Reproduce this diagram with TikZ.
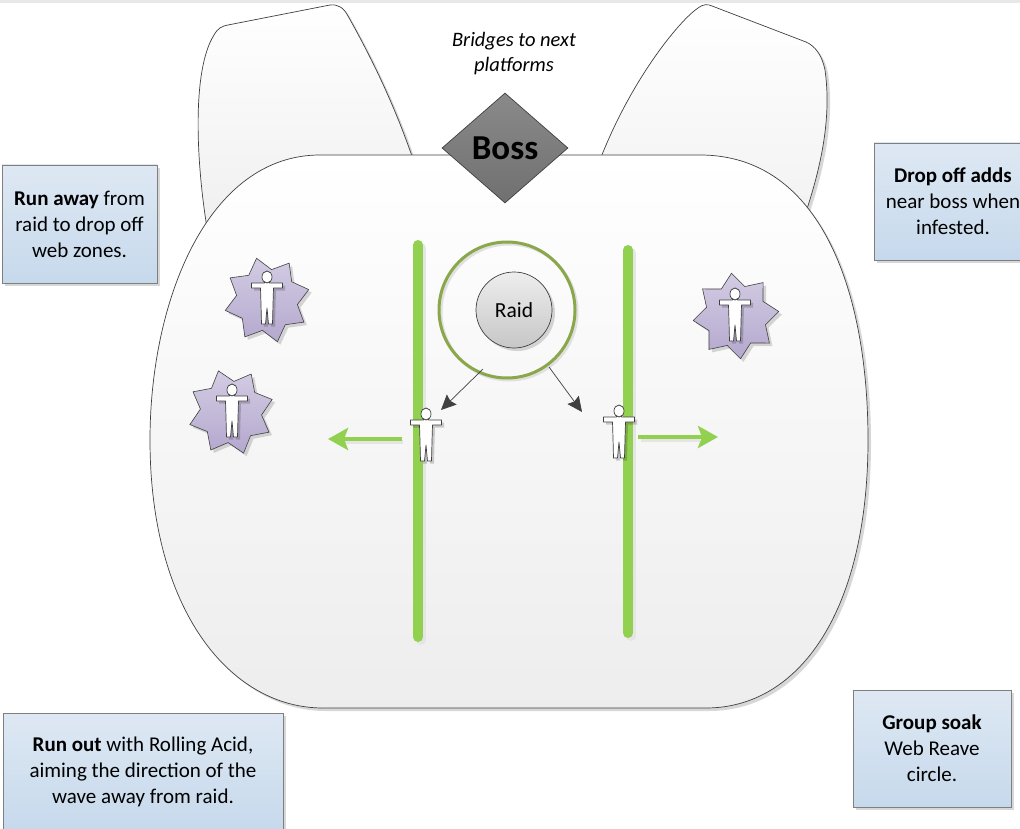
\documentclass[tikz,border=0pt]{standalone}
\usepackage{fontspec}
\setmainfont{Carlito}
\usetikzlibrary{shapes.geometric,arrows.meta,shadows}
\definecolor{boxtop}{HTML}{DEE8F3}
\definecolor{boxbot}{HTML}{C6D9EC}
\definecolor{boxline}{HTML}{7F7F7F}
\definecolor{grn}{HTML}{92D050}
\definecolor{olivering}{HTML}{8AA84B}
\definecolor{lavtop}{HTML}{D3CCE3}
\definecolor{lavbot}{HTML}{B4A8CE}
\definecolor{edgec}{HTML}{404040}
\tikzset{
  shadowed/.style={drop shadow={shadow xshift=3pt,shadow yshift=-3pt,opacity=0.22,fill=black!70}},
  note/.style={draw=boxline, line width=0.8pt, top color=boxtop, bottom color=boxbot, shadowed,
    align=center, font=\fontsize{21}{26}\selectfont, inner sep=0pt},
  platform/.style={draw=edgec, line width=0.7pt, top color=white, bottom color=black!7, shadowed},
  zone/.style={star, star points=8, star point ratio=1.4, minimum size=86pt, draw=edgec,
    line width=0.6pt, top color=lavtop, bottom color=lavbot, shadowed, inner sep=0pt},
  greenbar/.style={line width=10pt, line cap=round, draw=grn},
  barshadow/.style={line width=10pt, line cap=round, draw=black!10},
  runarrow/.style={line width=4pt, draw=grn, -{Stealth[length=20pt,width=22pt,inset=4pt]}},
  movearrow/.style={line width=0.7pt, draw=edgec, -{Stealth[length=15pt,width=14pt,inset=2pt]}},
  person/.pic={
    \fill[black, opacity=0.18, shift={(2.5,2.5)}]
      (-2.5,5) -- (-2.5,6) -- (-15.5,6) -- (-15.5,11) -- (-6.5,11) -- (-6,27) -- (-5.5,47) -- (-1.5,47)
      -- (0,31) -- (1.5,47) -- (5.5,47) -- (6,27) -- (6.5,11) -- (15.5,11) -- (15.5,6) -- (2.5,6) -- (2.5,5) -- cycle;
    \draw[edgec, fill=white, line width=0.7pt, line join=round]
      (-2.5,5) -- (-2.5,6) -- (-15.5,6) -- (-15.5,11) -- (-6.5,11) -- (-6,27) -- (-5.5,47) -- (-1.5,47)
      -- (0,31) -- (1.5,47) -- (5.5,47) -- (6,27) -- (6.5,11) -- (15.5,11) -- (15.5,6) -- (2.5,6) -- (2.5,5) -- cycle;
    \draw[edgec, fill=white, line width=0.7pt] (0,0) ellipse [x radius=5, y radius=6];
  }
}
\begin{document}
\begin{tikzpicture}[x=1pt,y=-1pt]
\useasboundingbox (0,0) rectangle (1020,829);
\clip (0,0) rectangle (1020,829);
\fill[white] (0,0) rectangle (1020,829);
\fill[black!9] (0,0) rectangle (1020,3);

% ears (bridges)
\path[platform] (210,260) -- (207,228) .. controls (196,160) and (192,70) .. (214,35)
  .. controls (218,28) and (222,26) .. (228,25) -- (330,5)
  .. controls (338,4) and (344,8) .. (348,16)
  .. controls (370,55) and (395,105) .. (415,165) -- (400,260) -- cycle;
\path[platform] (598,165) .. controls (630,80) and (680,20) .. (698,8)
  .. controls (703,4) and (708,4) .. (712,6) -- (806,42)
  .. controls (815,46) and (822,55) .. (825,70)
  .. controls (832,120) and (820,170) .. (805,215) -- (700,300) -- cycle;

% main platform
\path[platform] (320,155) -- (700,155) .. controls (820,155) and (868,290) .. (868,440)
  .. controls (868,610) and (800,708) .. (706,708) -- (323,708)
  .. controls (230,708) and (150,610) .. (150,440)
  .. controls (150,300) and (208,155) .. (320,155) -- cycle;

% boss and label
\node[diamond, draw=edgec, line width=0.7pt, top color=black!46, bottom color=black!56,
  minimum width=126pt, minimum height=110pt, inner sep=0pt,
  font=\bfseries\fontsize{35}{40}\selectfont] (boss) at (505,148) {Boss};
\node[font=\itshape\fontsize{20.5}{25}\selectfont, align=center] (bridges) at (514,54)
  {Bridges to next\\platforms};

% green lines
\coordinate (lbtop) at (418,245); \coordinate (lbbot) at (418,637);
\coordinate (rbtop) at (628,250); \coordinate (rbbot) at (628,633);
\coordinate (lbtops) at (421,248); \coordinate (lbbots) at (421,640);
\coordinate (rbtops) at (631,253); \coordinate (rbbots) at (631,636);
\draw[barshadow] (lbtops) -- (lbbots);
\draw[barshadow] (rbtops) -- (rbbots);
\draw[greenbar] (lbtop) -- (lbbot);
\draw[greenbar] (rbtop) -- (rbbot);

% raid
\node[circle, draw=black!12, line width=3pt, minimum size=136pt, inner sep=0pt] (ringshadow) at (509,312) {};
\node[circle, draw=olivering, line width=3pt, minimum size=136pt, inner sep=0pt] (ring) at (507,310) {};
\node[circle, draw=edgec, line width=0.7pt, minimum size=76pt, inner sep=0pt,
  top color=black!7, bottom color=black!22, shadowed, font=\fontsize{21.5}{24}\selectfont] (raid) at (514,310) {Raid};

% movement arrows
\coordinate (ma0) at (483,369); \coordinate (ma1) at (441,410);
\coordinate (mb0) at (549,367); \coordinate (mb1) at (582,412);
\draw[movearrow] (ma0) -- (ma1);
\draw[movearrow] (mb0) -- (mb1);

\coordinate (la0) at (402,439); \coordinate (la1) at (328,439);
\coordinate (ra0) at (638,437); \coordinate (ra1) at (718,437);
\draw[line width=4pt, draw=black!10] (403,442) -- (345,442);
\draw[line width=4pt, draw=black!10] (641,440) -- (700,440);
\draw[runarrow] (la0) -- (la1);
\draw[runarrow] (ra0) -- (ra1);

% players on lines
\pic (p1) at (426,414) {person};
\pic (p2) at (619,411) {person};

% web zones
\node[zone, rotate=14] (z1) at (267,300) {};
\node[zone, rotate=17] (z2) at (231,412) {};
\node[zone, rotate=6] (z3) at (736,316) {};
\pic (p3) at (267,277) {person};
\pic (p4) at (232,390) {person};
\pic (p5) at (735,294) {person};

% notes
\node[note, minimum width=155pt, minimum height=118pt] (runaway) at (79.5,224)
  {\textbf{Run away} from\\raid to drop off\\web zones.};
\node[note, minimum width=158pt, minimum height=117pt] (dropoff) at (953,201.5)
  {\textbf{Drop off adds}\\near boss when\\infested.};
\node[note, minimum width=280pt, minimum height=118pt] (runout) at (143,772)
  {\textbf{Run out} with Rolling Acid,\\aiming the direction of the\\wave away from raid.};
\node[note, minimum width=158pt, minimum height=117pt] (soak) at (932,748.5)
  {\textbf{Group soak}\\Web Reave\\circle.};
\end{tikzpicture}
\end{document}
